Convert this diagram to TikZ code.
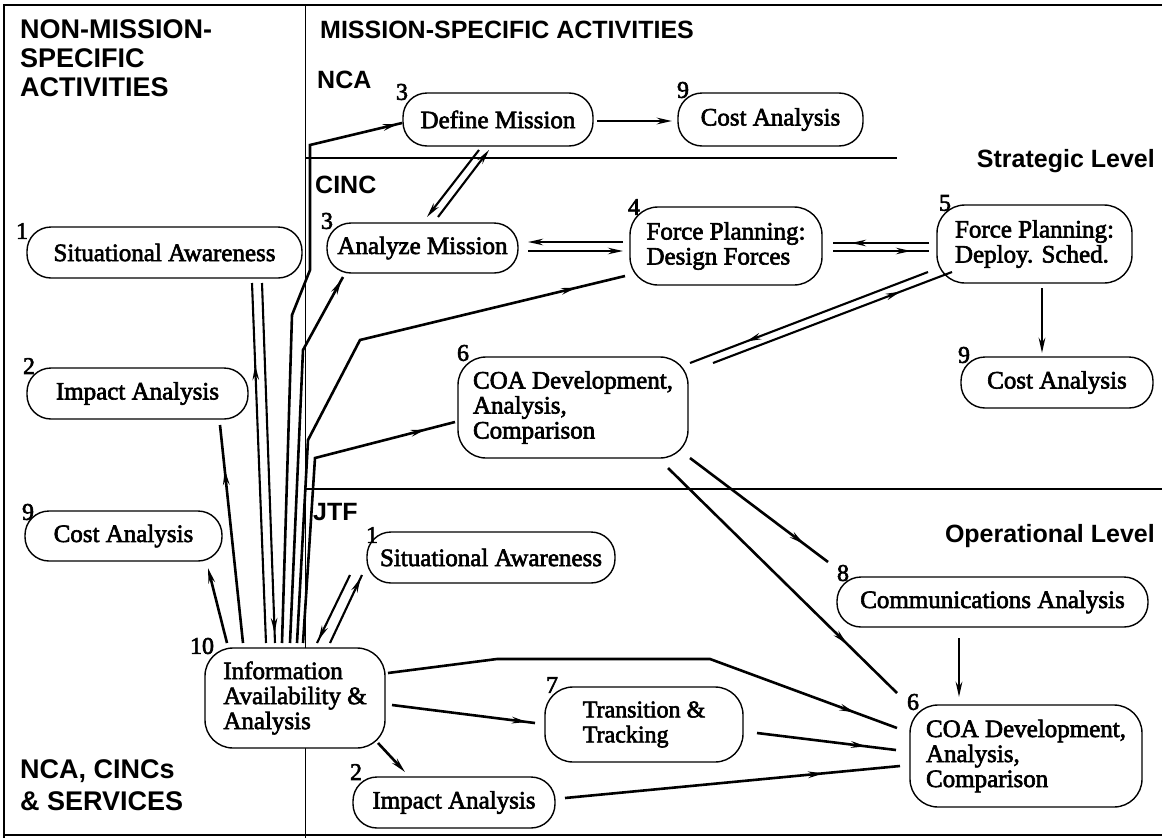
\documentclass[tikz,border=0pt]{standalone}
\usepackage{fontspec}
\setmainfont{Liberation Serif}[FakeBold=2.5]
\newfontfamily\hdrfont{Liberation Sans}
\usetikzlibrary{arrows.meta,calc,decorations.markings}
\begin{document}
\begin{tikzpicture}[x=1pt,y=-1pt,
 box/.style={draw, fill=white, line width=1.4pt, rounded corners=24pt, inner sep=0pt, align=center, font=\fontsize{25}{25}\selectfont},
 bigbox/.style={box, rounded corners=28pt, align=left},
 num/.style={font=\fontsize{24}{24}\selectfont, inner sep=0pt},
 hd/.style={font=\hdrfont\bfseries\fontsize{25}{29}\selectfont, inner sep=0pt},
 hdl/.style={hd, font=\hdrfont\bfseries\fontsize{27}{29}\selectfont},
 ln/.style={line width=2.6pt},
 dl/.style={line width=2.1pt},
 arr/.style={-{Stealth[length=15pt,width=6.5pt]}},
 ah/.style={postaction={decorate}, decoration={markings, mark=at position #1 with {\arrow{Stealth[length=15pt,width=6.5pt]}}}},
]
\useasboundingbox (0,0) rectangle (1162,838);
\fill[white] (0,0) rectangle (1162,838);
% frame and dividers
\draw[line width=2.5pt] (4,838) -- (4,5) -- (1162,5);
\draw[line width=1.8pt] (4,835) -- (1162,835);
\draw[line width=1pt] (305,5) -- (305,838);
\draw[line width=1.2pt] (305,158) -- (897,158);
\draw[line width=1.2pt] (305,489) -- (1162,489);

% headers
\node[hdl, anchor=base west] (hnm1) at (20,38) {NON-MISSION-};
\node[hdl, anchor=base west] (hnm2) at (20,67) {SPECIFIC};
\node[hdl, anchor=base west] (hnm3) at (20,96) {ACTIVITIES};
\node[hd, anchor=base west] (hms) at (320,38) {MISSION-SPECIFIC ACTIVITIES};
\node[hd, anchor=base west] (hnca) at (317,88) {NCA};
\node[hd, anchor=base west] (hcinc) at (315,193) {CINC};
\node[hd, anchor=base west] (hjtf) at (313,520) {JTF};
\node[hd, anchor=base east] (hstr) at (1155,167) {Strategic Level};
\node[hd, anchor=base east] (hop) at (1155,542) {Operational Level};
\node[hdl, anchor=base west] (hsv1) at (20,778) {NCA, CINCs};
\node[hdl, anchor=base west] (hsv2) at (20,810) {\& SERVICES};

% boxes
\node[box, minimum width=190pt, minimum height=53pt] (defmis) at (498,119.5) {Define Mission};
\node[box, minimum width=185pt, minimum height=53pt] (cost1) at (770.5,119.5) {Cost Analysis};
\node[box, minimum width=275pt, minimum height=51pt] (sit1) at (164.5,252.5) {Situational Awareness};
\node[box, minimum width=191pt, minimum height=50pt] (anamis) at (422.5,248) {Analyze Mission};
\node[bigbox, minimum width=192pt, minimum height=78pt] (design) at (726,246) {Force Planning:\\Design Forces};
\node[bigbox, minimum width=195pt, minimum height=78pt] (deploy) at (1034.5,244) {Force Planning:\\Deploy. Sched.};
\node[box, minimum width=192pt, minimum height=51pt] (cost2) at (1057,382.5) {Cost Analysis};
\node[box, minimum width=221pt, minimum height=51pt] (impact1) at (137.5,393.5) {Impact Analysis};
\node[bigbox, minimum width=230pt, minimum height=101pt] (coa1) at (573,407.5) {COA Development,\\Analysis,\\Comparison};
\node[box, minimum width=197pt, minimum height=50pt] (cost3) at (123.5,536) {Cost Analysis};
\node[box, minimum width=248pt, minimum height=51pt] (sit2) at (491,557.5) {Situational Awareness};
\node[box, minimum width=311pt, minimum height=50pt] (comm) at (992.5,602) {Communications Analysis};
\node[bigbox, minimum width=180pt, minimum height=100pt] (info) at (295,698) {Information\\Availability \&\\Analysis};
\node[bigbox, minimum width=198pt, minimum height=75pt, font=\fontsize{24}{25}\selectfont] (trans) at (644,724.5) {Transition \&\\Tracking};
\node[box, minimum width=202pt, minimum height=51pt] (impact2) at (454,802.5) {Impact Analysis};
\node[bigbox, minimum width=232pt, minimum height=102pt] (coa2) at (1026,756) {COA Development,\\Analysis,\\Comparison};

% number labels
\node[num] (ndefmis) at (402,92) {3};
\node[num] (ncost1) at (683,90) {9};
\node[num] (nsit1) at (22,231) {1};
\node[num] (nanamis) at (327,221) {3};
\node[num] (ndesign) at (634,207) {4};
\node[num] (ndeploy) at (945,203) {5};
\node[num] (ncost2) at (964,355) {9};
\node[num] (nimpact1) at (29,366) {2};
\node[num] (ncoa1) at (463,353) {6};
\node[num] (ncost3) at (28,512) {9};
\node[num] (nsit2) at (372,535) {1};
\node[num] (ncomm) at (843,573) {8};
\node[num] (ninfo) at (202,646) {10};
\node[num] (ntrans) at (552,685) {7};
\node[num] (nimpact2) at (356,772) {2};
\node[num] (ncoa2) at (913,702) {6};

% connectors: strategic level
\draw[ln,arr] ($(defmis)+(99,1.5)$) -- ($(cost1)+(-98.5,1.5)$);
\draw[dl,arr] ($(defmis)+(-19,30.5)$) -- ($(anamis)+(4.5,-31)$);
\draw[dl,arr] ($(anamis)+(15.5,-31)$) -- ($(defmis)+(-9,30.5)$);
\draw[dl,arr] ($(design)+(-103,-4)$) -- ($(anamis)+(105.5,-6)$);
\draw[dl,arr] ($(anamis)+(105.5,3)$) -- ($(design)+(-103,5)$);
\draw[dl,ah=-18pt] ($(deploy)+(-105.5,-1)$) -- ($(design)+(107,-3)$);
\draw[dl,ah=-18pt] ($(design)+(107,5)$) -- ($(deploy)+(-105.5,7)$);
\draw[ln,arr] ($(deploy)+(7.5,44)$) -- ($(cost2)+(-15,-29.5)$);
\draw[dl,ah=-60pt] ($(deploy)+(-106.5,28)$) -- ($(coa1)+(117,-44.5)$);
\draw[dl,ah=-55pt] ($(coa1)+(140,-44.5)$) -- ($(deploy)+(-82.5,28)$);
\draw[ln,ah=-30pt] ($(coa1)+(117,50.5)$) -- ($(comm)+(-164.5,-40)$);
\draw[ln,ah=-70pt] ($(coa1)+(95,60.5)$) -- ($(coa2)+(-129,-63)$);

% connectors: operational level
\draw[ln,arr] ($(comm)+(-33.5,36)$) -- ($(coa2)+(-67,-59)$);
\draw[ln,ah=-45pt] ($(info)+(93,-25)$) -- (497,659) -- (710,659) -- ($(coa2)+(-129,-28)$);
\draw[ln,ah=-8pt] ($(info)+(97,7)$) -- ($(trans)+(-109,-1.5)$);
\draw[ln,arr] ($(info)+(83,45)$) -- ($(impact2)+(-49,-30.5)$);
\draw[ln,ah=-30pt] ($(trans)+(113,8.5)$) -- ($(coa2)+(-130,-6)$);
\draw[ln,ah=-77pt] ($(impact2)+(111,-4.5)$) -- ($(coa2)+(-126,10)$);

% connectors: fan from Information Availability & Analysis
\draw[ln,arr] ($(info)+(-68,-55)$) -- ($(cost3)+(84.5,32)$);
\draw[ln,ah=-45pt] ($(info)+(-52,-55)$) -- ($(impact1)+(82.5,31.5)$);
\draw[dl,ah=-82pt] ($(info)+(-29,-55)$) -- ($(sit1)+(87.5,30.5)$);
\draw[dl,ah=-10pt] ($(sit1)+(97.5,30.5)$) -- ($(info)+(-20,-55)$);
\draw[ln,ah=-4pt] ($(info)+(-13,-55)$) -- (292,315) -- (310,270) -- (310,145) -- ($(defmis)+(-96,3.5)$);
\draw[ln,ah=-3pt] ($(info)+(-5,-55)$) -- (303,350) -- ($(anamis)+(-79.5,29)$);
\draw[ln,ah=-50pt] ($(info)+(2,-55)$) -- (308,440) -- (360,340) -- ($(design)+(-101,30)$);
\draw[ln,ah=-30pt] ($(info)+(8,-55)$) -- (315,458) -- ($(coa1)+(-118,14.5)$);
\draw[dl,ah=-3pt] ($(sit2)+(-141,17.5)$) -- ($(info)+(22,-55)$);
\draw[dl,ah=-3pt] ($(info)+(35,-55)$) -- ($(sit2)+(-129,17.5)$);
\end{tikzpicture}
\end{document}
